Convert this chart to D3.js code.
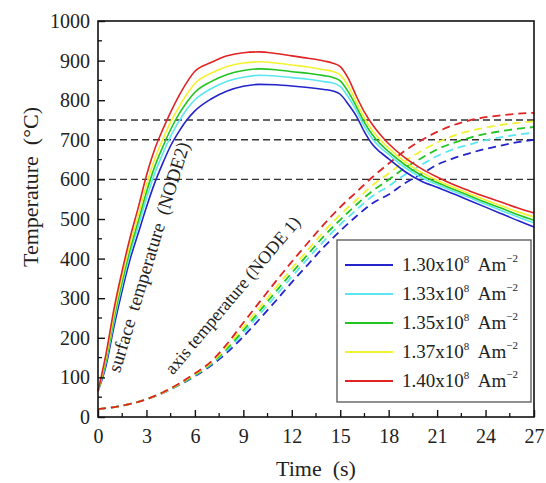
<!DOCTYPE html>
<html><head><meta charset="utf-8">
<script src="https://cdn.jsdelivr.net/npm/d3@7"></script>
<style>
body{margin:0;background:#fff}
svg text{font-family:"Liberation Serif","Tinos","Times New Roman","DejaVu Serif","Noto Serif",serif;fill:#222}
</style>
</head><body>
<svg id="chart" width="546" height="483"></svg>
<script>
// ---- data ----
const seriesLabels = ["1.30", "1.33", "1.35", "1.37", "1.40"];
const seriesColors = ["#2424cc", "#5ee6f0", "#22c422", "#f2f230", "#e02424"];

const surfTimes = [0,0.5,1,1.5,2,2.5,3,3.5,4,4.5,5,5.5,6,7,8,9,10,11,12,13,14,14.5,15,15.5,16,16.5,17,17.5,18,19,20,21,22,23,24,25,26,27];
const surf130 = [65,130,230,320,400,465,530,590,640,685,720,750,773,803,823,835,840,839,836,832,827,824,815,790,760,720,688,668,652,620,596,580,564,547,530,513,496,480];
const surf133 = [65,138,243,334,415,483,552,614,664,709,746,777,801,829,848,858,863,861,857,853,847,844,835,808,774,734,702,680,663,630,605,587,570,554,537,521,505,490];
const surf135 = [65,144,252,344,426,496,568,631,681,726,764,795,820,847,865,875,879,877,872,868,862,858,849,821,784,744,712,689,670,637,611,592,575,559,542,527,511,497];
const surf137 = [65,151,262,355,438,510,586,650,700,745,782,815,842,868,885,894,897,894,889,884,877,873,864,836,795,755,723,699,679,645,618,598,580,564,548,533,518,505];
const surf140 = [65,160,275,370,455,530,610,675,725,770,810,845,873,895,912,920,922,918,912,906,899,894,885,855,810,770,738,712,690,655,628,606,587,571,556,542,528,515];

const axisTimes = [0,1,2,3,4,5,6,7,8,9,10,11,12,13,14,15,16,17,18,19,20,21,22,23,24,25,26,27];
const axis130 = [20,25,33,45,60,80,103,130,163,203,247,293,340,385,430,470,507,540,562,590,613,637,653,666,677,686,694,700];
const axis133 = [20,25,33,45,61,81,105,133,169,212,259,306,354,400,445,486,523,558,583,612,636,659,676,688,699,707,713,718];
const axis135 = [20,25,33,45,61,82,106,135,173,219,267,316,364,411,457,498,536,571,599,629,653,676,692,705,715,722,728,732];
const axis137 = [20,25,33,45,61,83,108,137,178,227,276,326,375,422,469,511,548,585,615,646,671,693,710,722,731,738,743,746];
const axis140 = [20,25,33,45,62,84,110,140,185,238,290,342,392,440,487,530,568,606,640,672,698,720,737,749,757,762,766,768];

const refLevels = [600, 700, 750];
const xTicks = [0,3,6,9,12,15,18,21,24,27];
const yTicks = [0,100,200,300,400,500,600,700,800,900,1000];

const surfSeries = [surf130, surf133, surf135, surf137, surf140];
const axisSeries = [axis130, axis133, axis135, axis137, axis140];

// ---- layout ----
const FONT = '"Liberation Serif","Tinos","Times New Roman","DejaVu Serif","Noto Serif",serif';
const svg = d3.select("#chart");
const L = 98, R = 534, T = 21, B = 417;
const x = d3.scaleLinear().domain([0, 27]).range([L, R]);
const y = d3.scaleLinear().domain([0, 1000]).range([B, T]);

// reference dashed lines
svg.append("g").selectAll("line").data(refLevels).join("line")
  .attr("x1", L).attr("x2", R)
  .attr("y1", d => y(d)).attr("y2", d => y(d))
  .attr("stroke", "#333").attr("stroke-width", 1.4)
  .attr("stroke-dasharray", "7,4");

const line = d3.line().curve(d3.curveMonotoneX);

axisSeries.forEach((s, i) => {
  svg.append("path")
    .attr("d", line(s.map((v, k) => [x(axisTimes[k]), y(v)])))
    .attr("fill", "none").attr("stroke", seriesColors[i])
    .attr("stroke-width", 1.8).attr("stroke-dasharray", "8,5");
});
surfSeries.forEach((s, i) => {
  svg.append("path")
    .attr("d", line(s.map((v, k) => [x(surfTimes[k]), y(v)])))
    .attr("fill", "none").attr("stroke", seriesColors[i])
    .attr("stroke-width", 1.6);
});

// frame
svg.append("rect").attr("x", L).attr("y", T).attr("width", R - L).attr("height", B - T)
  .attr("fill", "none").attr("stroke", "#111").attr("stroke-width", 1.6);

// x axis
const xAxis = d3.axisBottom(x).tickValues(xTicks).tickSize(-7).tickPadding(12).tickFormat(d3.format("d"));
const gx = svg.append("g").attr("transform", `translate(0,${B})`).call(xAxis)
  .attr("font-family", FONT).attr("font-size", 20);
gx.select(".domain").remove();
gx.selectAll(".tick line").attr("stroke", "#111").attr("stroke-width", 1.4);
gx.selectAll(".tick text").attr("fill", "#222");
const xMinor = d3.range(1.5, 27, 3);
svg.append("g").selectAll("line").data(xMinor).join("line")
  .attr("x1", d => x(d)).attr("x2", d => x(d)).attr("y1", B).attr("y2", B - 4)
  .attr("stroke", "#111").attr("stroke-width", 1.3);

// y axis
const yAxis = d3.axisLeft(y).tickValues(yTicks).tickSize(-7).tickPadding(8).tickFormat(d3.format("d"));
const gy = svg.append("g").attr("transform", `translate(${L},0)`).call(yAxis)
  .attr("font-family", FONT).attr("font-size", 20);
gy.select(".domain").remove();
gy.selectAll(".tick line").attr("stroke", "#111").attr("stroke-width", 1.4);
gy.selectAll(".tick text").attr("fill", "#222");
const yMinor = d3.range(50, 1000, 100);
svg.append("g").selectAll("line").data(yMinor).join("line")
  .attr("x1", L).attr("x2", L + 4).attr("y1", d => y(d)).attr("y2", d => y(d))
  .attr("stroke", "#111").attr("stroke-width", 1.3);

// axis titles
svg.append("text").attr("x", (L + R) / 2).attr("y", 476).attr("text-anchor", "middle")
  .attr("font-size", 22).style("white-space", "pre").text("Time  (s)");
svg.append("text").attr("transform", "translate(38,187) rotate(-90)").attr("text-anchor", "middle")
  .attr("font-size", 22).style("white-space", "pre").text("Temperature  (°C)");

// annotations
svg.append("text").attr("transform", `translate(${x(1.35)},${y(110)}) rotate(-73)`)
  .attr("font-size", 19).style("white-space", "pre").text("surface  temperature  (NODE2)");
svg.append("text").attr("transform", `translate(${x(4.65)},${y(105)}) rotate(-50)`)
  .attr("font-size", 18).style("white-space", "pre").text("axis temperature (NODE 1)");

// legend
const lg = svg.append("g");
lg.append("rect").attr("x", 337).attr("y", 240).attr("width", 194).attr("height", 162)
  .attr("fill", "#fff").attr("stroke", "#555").attr("stroke-width", 1.3);
seriesLabels.forEach((lab, i) => {
  const ly = 265 + i * 29;
  lg.append("line").attr("x1", 345).attr("x2", 393).attr("y1", ly).attr("y2", ly)
    .attr("stroke", seriesColors[i]).attr("stroke-width", 2);
  const t = lg.append("text").attr("x", 402).attr("y", ly + 6).attr("font-size", 19)
    .style("white-space", "pre");
  t.append("tspan").text(lab + "x10");
  t.append("tspan").attr("dy", -8).attr("font-size", 11).text("8");
  t.append("tspan").attr("dy", 8).text("  Am");
  t.append("tspan").attr("dy", -9).attr("font-size", 11).text("−2");
});
</script>
</body></html>
